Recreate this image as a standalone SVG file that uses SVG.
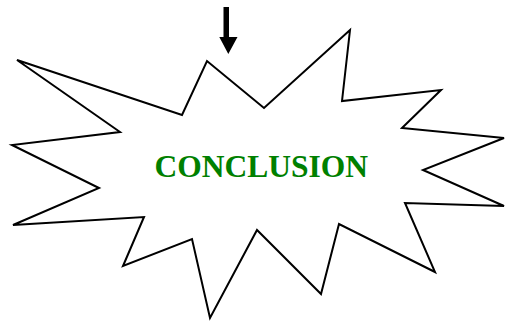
<svg xmlns="http://www.w3.org/2000/svg" width="505" height="323" viewBox="0 0 505 323">
<style>
.burst{fill:#fff;stroke:#000;stroke-width:2;stroke-linejoin:miter}
.label{font-family:"Liberation Serif","Times New Roman",serif;font-weight:bold;font-size:31.5px;fill:#008000}
.arrow{fill:#000;stroke:none}
</style>
<rect width="505" height="323" fill="#fff"/>
<g id="connectors">
<polygon class="arrow" points="223.5,7 229,7 229,37 237.5,37 228.3,54 219.3,37 223.5,37"/>
</g>
<g id="conclusion">
<polygon class="burst" points="17,60 182,115 207,61 264,108 350,30 342,101 441,90 402,128 504,138 423,170 504,206 405,203 435,272 339,224 321,294 257,230 210,318 192,239 123,266 144,217 13,225 99,188 12,145 120,132"/>
<text class="label" x="154.5" y="177">CONCLUSION</text>
</g>
</svg>
